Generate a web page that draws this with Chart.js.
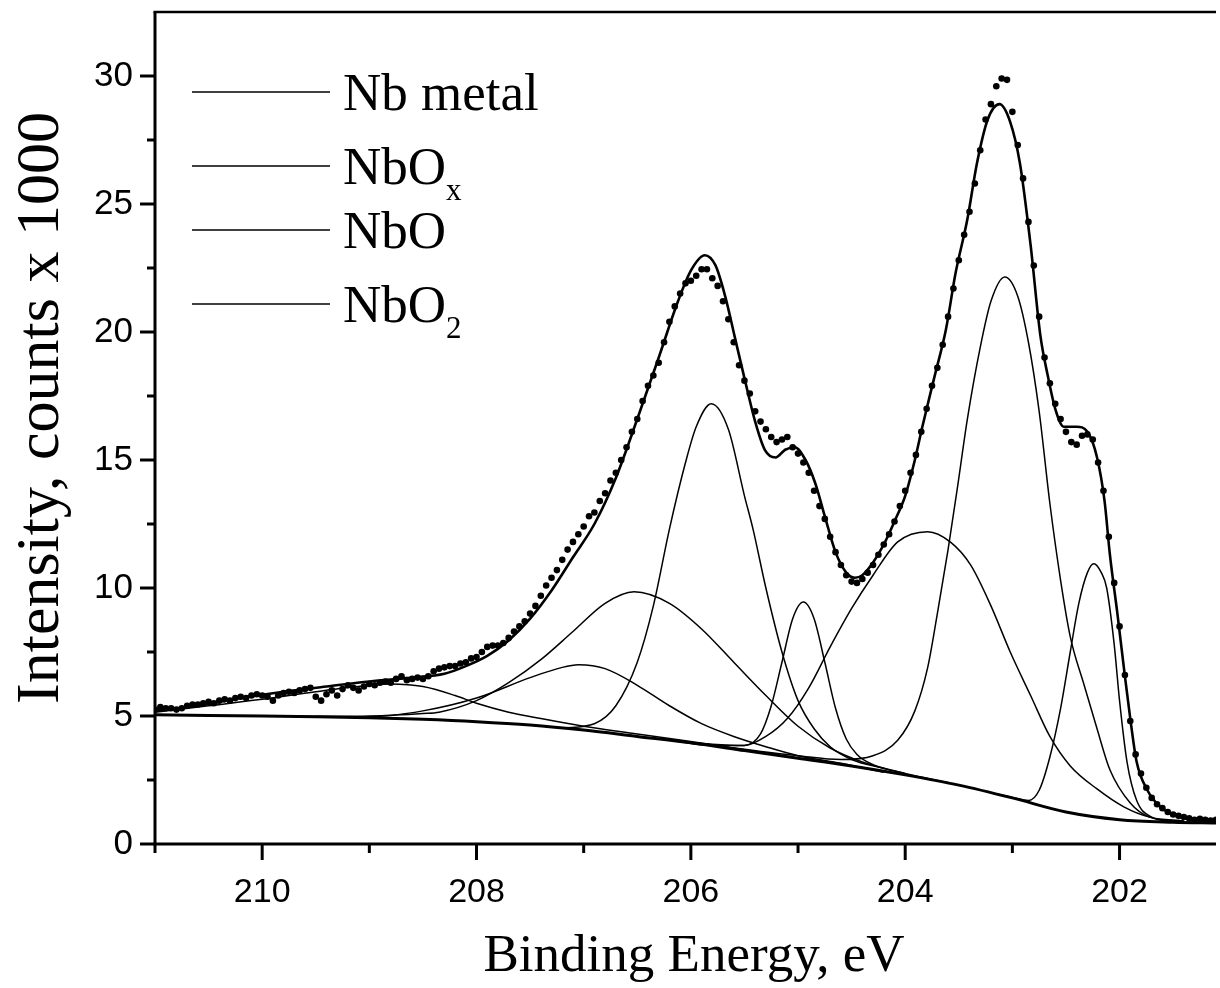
<!DOCTYPE html>
<html>
<head>
<meta charset="utf-8">
<script src="https://cdn.jsdelivr.net/npm/chart.js@4.4.1/dist/chart.umd.min.js"></script>
<style>
  html, body { margin: 0; padding: 0; background: #fff; }
  #wrap { width: 1220px; height: 988px; }
</style>
</head>
<body>
<div id="wrap"><canvas id="xps" width="1220" height="988"></canvas></div>
<script>
// Nb 3d spectrum, measured points every 0.05 eV starting at 211.00 eV
const SCAN_START = 211.0
const SCAN_STEP = 0.05
const counts = [
  5.25, 5.35, 5.3, 5.3, 5.25, 5.3, 5.4, 5.45, 5.45, 5.5,
  5.55, 5.5, 5.6, 5.65, 5.6, 5.7, 5.75, 5.7, 5.8, 5.85,
  5.8, 5.75, 5.6, 5.8, 5.9, 5.95, 5.9, 6.0, 6.05, 6.1,
  5.75, 5.6, 5.85, 6.0, 5.8, 6.05, 6.2, 6.1, 6.0, 6.15,
  6.25, 6.2, 6.3, 6.35, 6.3, 6.45, 6.55, 6.4, 6.45, 6.5,
  6.45, 6.55, 6.75, 6.85, 6.9, 6.95, 6.95, 7.05, 7.1, 7.25,
  7.3, 7.5, 7.7, 7.75, 7.75, 7.85, 8.05, 8.3, 8.5, 8.7,
  9.0, 9.3, 9.7, 10.1, 10.4, 10.7, 11.1, 11.5, 11.8, 12.1,
  12.4, 12.8, 12.95, 13.4, 13.7, 14.2, 14.5, 15.0, 15.5, 16.1,
  16.6, 17.3, 17.9, 18.3, 18.8, 19.6, 20.4, 21.0, 21.5, 21.9,
  22.0, 22.2, 22.45, 22.45, 22.1, 21.8, 21.2, 20.5, 19.6, 18.7,
  18.1, 17.6, 16.9, 16.5, 16.2, 15.9, 15.7, 15.8, 15.9, 15.5,
  15.25, 14.9, 14.5, 13.8, 13.2, 12.7, 12.0, 11.4, 10.9, 10.5,
  10.25, 10.2, 10.35, 10.6, 10.9, 11.3, 11.7, 12.1, 12.6, 13.2,
  13.8, 14.5, 15.2, 16.1, 17.0, 17.9, 18.6, 19.5, 20.6, 21.7,
  22.8, 23.8, 24.7, 25.8, 27.1, 28.3, 28.9, 29.6, 29.9, 29.85,
  28.6, 27.3, 26.0, 24.3, 22.6, 20.6, 19.0, 18.0, 17.2, 16.6,
  16.1, 15.7, 15.6, 15.95, 16.0, 15.8, 14.9, 13.8, 12.0, 10.2,
  8.5, 6.6, 4.8, 3.5, 2.75, 2.2, 1.8, 1.55, 1.4, 1.25,
  1.15, 1.1, 1.05, 1.0, 0.95, 0.98, 0.95, 0.92, 0.95
]

// fitted envelope
const envE = [211.0, 210.6, 210.2, 209.8, 209.4, 209.0, 208.6, 208.3, 208.1, 207.9,
  207.7, 207.5, 207.3, 207.1, 206.9, 206.7, 206.5, 206.3, 206.12, 206.0,
  205.87, 205.77, 205.68, 205.59, 205.5, 205.4, 205.31, 205.21, 205.12, 205.03,
  204.93, 204.84, 204.75, 204.65, 204.55, 204.47, 204.4, 204.3, 204.2, 204.1,
  204.0, 203.91, 203.84, 203.73, 203.62, 203.53, 203.42, 203.33, 203.23, 203.12,
  203.02, 202.93, 202.83, 202.74, 202.67, 202.6, 202.52, 202.4, 202.3, 202.21,
  202.14, 202.09, 202.02, 201.96, 201.9, 201.84, 201.74, 201.62, 201.44, 201.1]
const envI = [5.2, 5.4, 5.7, 5.95, 6.15, 6.35, 6.5, 6.65, 6.95, 7.35,
  7.95, 8.8, 9.9, 11.2, 12.5, 14.3, 16.6, 19.0, 21.2, 22.4,
  23.0, 22.6, 21.4, 19.8, 18.2, 16.5, 15.4, 15.1, 15.4, 15.5,
  15.0, 14.1, 12.8, 11.4, 10.6, 10.4, 10.5, 11.0, 11.7, 12.6,
  13.6, 15.0, 16.3, 18.2, 20.1, 22.3, 24.4, 26.6, 28.3, 28.9,
  28.2, 26.6, 23.4, 19.9, 18.3, 17.0, 16.3, 16.3, 16.1, 15.1,
  13.4, 11.3, 9.0, 6.9, 4.9, 3.2, 2.1, 1.45, 1.05, 0.88]

// Shirley background
const bgE = [211.0, 210.5, 210.0, 209.5, 209.0, 208.5, 208.0, 207.5, 207.0, 206.5,
  206.0, 205.5, 205.0, 204.5, 204.0, 203.5, 203.0, 202.5, 202.0, 201.5, 201.1]
const bgI = [5.05, 5.02, 5.0, 4.97, 4.93, 4.87, 4.78, 4.65, 4.45, 4.2,
  3.95, 3.65, 3.35, 3.05, 2.7, 2.3, 1.8, 1.25, 0.95, 0.85, 0.82]

// fit components (each drawn on top of the background)
const metal52E = [203.2, 203.0, 202.85, 202.75, 202.65, 202.55, 202.46, 202.38, 202.3, 202.24,
  202.17, 202.12, 202.05, 202.0, 201.93, 201.84, 201.7, 201.5, 201.1]
const metal52I = [2.0, 1.82, 1.7, 2.1, 3.4, 5.3, 7.5, 9.4, 10.6, 10.95,
  10.6, 10.0, 7.8, 5.6, 3.2, 1.7, 1.05, 0.88, 0.82]

const metal32E = [206.2, 205.8, 205.5, 205.35, 205.25, 205.15, 205.05, 204.95, 204.85, 204.75,
  204.65, 204.55, 204.45, 204.3, 204.0, 203.6]
const metal32I = [4.06, 3.9, 3.85, 4.3, 5.4, 7.1, 8.8, 9.45, 8.8, 7.1,
  5.3, 4.1, 3.5, 3.1, 2.75, 2.4]

const nbo52E = [206.0, 205.5, 205.0, 204.6, 204.3, 204.07, 203.91, 203.79, 203.7, 203.6,
  203.51, 203.42, 203.3, 203.2, 203.07, 202.95, 202.85, 202.75, 202.65, 202.55,
  202.46, 202.33, 202.21, 202.09, 201.9, 201.72, 201.4]
const nbo52I = [3.97, 3.7, 3.45, 3.3, 3.45, 4.05, 5.2, 6.9, 9.0, 11.5,
  14.0, 16.6, 19.4, 21.2, 22.15, 21.4, 19.6, 16.9, 13.3, 10.3,
  8.1, 6.2, 4.5, 2.9, 1.6, 1.05, 0.88]

const nbo32E = [207.2, 206.9, 206.7, 206.5, 206.35, 206.2, 206.05, 205.95, 205.81, 205.65,
  205.5, 205.42, 205.3, 205.15, 205.0, 204.85, 204.7, 204.5, 204.2]
const nbo32I = [4.53, 4.7, 5.4, 7.1, 9.3, 12.3, 14.9, 16.3, 17.2, 16.2,
  13.6, 12.3, 10.0, 7.5, 5.6, 4.5, 3.8, 3.3, 2.95]

const nbox52E = [206.2, 205.8, 205.5, 205.3, 205.1, 204.9, 204.7, 204.5, 204.3, 204.07,
  203.79, 203.58, 203.39, 203.2, 203.02, 202.83, 202.65, 202.46, 202.21, 201.96, 201.72, 201.4]
const nbox52I = [4.06, 3.85, 3.85, 4.2, 4.9, 6.1, 7.7, 9.2, 10.5, 11.8,
  12.2, 11.8, 10.9, 9.3, 7.5, 5.8, 4.2, 3.05, 2.15, 1.45, 1.05, 0.9]

const nbox32E = [209.5, 209.0, 208.5, 208.35, 208.0, 207.7, 207.4, 207.1, 206.8, 206.53,
  206.2, 205.9, 205.6, 205.3, 205.0, 204.7, 204.4, 204.0]
const nbox32I = [4.98, 5.0, 5.1, 5.15, 5.6, 6.3, 7.2, 8.3, 9.4, 9.85,
  9.4, 8.4, 7.1, 5.8, 4.6, 3.75, 3.2, 2.75]

const nbo2aE = [210.0, 209.0, 208.5, 208.0, 207.5, 207.2, 207.05, 206.8, 206.5, 206.2,
  205.9, 205.6, 205.3, 205.0, 204.6, 204.2]
const nbo2aI = [5.0, 4.97, 5.2, 5.7, 6.5, 6.9, 7.0, 6.85, 6.2, 5.4,
  4.7, 4.2, 3.8, 3.45, 3.15, 2.8]

const nbo2bE = [211.0, 210.5, 210.0, 209.5, 209.0, 208.8, 208.5, 208.2, 208.0, 207.7,
  207.4, 207.0, 206.5, 206.0, 205.5]
const nbo2bI = [5.15, 5.4, 5.65, 5.95, 6.2, 6.25, 6.15, 5.8, 5.5, 5.15,
  4.9, 4.6, 4.3, 4.0, 3.68]

// axes
const X_LEFT = 211.0
const X_RIGHT = 201.1
const Y_MAX = 32.5
const xTickValues = [202, 203, 204, 205, 206, 207, 208, 209, 210, 211]
const yTickValues = [0, 2.5, 5, 7.5, 10, 12.5, 15, 17.5, 20, 22.5, 25, 27.5, 30]
const xTitle = 'Binding Energy, eV'
const yTitle = 'Intensity, counts x 1000'

const legendNames = [
  { base: 'Nb metal', sub: '' },
  { base: 'NbO', sub: 'x' },
  { base: 'NbO', sub: '' },
  { base: 'NbO', sub: '2' },
]

const SERIF = '"Liberation Serif", "Times New Roman", serif'
const SANS = '"Liberation Sans", Arial, sans-serif'

const pts = (xs, ys) => xs.map((x, i) => ({ x, y: ys[i] }))
const scanPts = counts.map((c, i) => ({ x: +(SCAN_START - i * SCAN_STEP).toFixed(2), y: c }))

const curve = (data, width) => ({
  data,
  showLine: true,
  borderColor: '#000',
  borderWidth: width,
  pointRadius: 0,
  cubicInterpolationMode: 'monotone',
  fill: false,
})

// axis lines, tick marks, axis titles and legend
const framePlugin = {
  id: 'frame',
  afterDraw(chart) {
    const { ctx, chartArea: a, scales: { x, y } } = chart
    ctx.save()
    ctx.strokeStyle = '#000'
    ctx.fillStyle = '#000'
    ctx.lineCap = 'butt'

    ctx.lineWidth = 3
    x.ticks.forEach(t => {
      const px = x.getPixelForValue(t.value)
      const len = t.value % 2 === 0 ? 16 : 9
      ctx.beginPath(); ctx.moveTo(px, a.bottom); ctx.lineTo(px, a.bottom + len); ctx.stroke()
    })
    y.ticks.forEach(t => {
      const py = y.getPixelForValue(t.value)
      const len = t.value % 5 === 0 ? 15 : 8
      ctx.beginPath(); ctx.moveTo(a.left, py); ctx.lineTo(a.left - len, py); ctx.stroke()
    })

    ctx.beginPath(); ctx.moveTo(a.left, a.top); ctx.lineTo(a.left, a.bottom + 1.5); ctx.stroke()
    ctx.beginPath(); ctx.moveTo(a.left - 1.5, a.bottom); ctx.lineTo(a.right, a.bottom); ctx.stroke()
    ctx.lineWidth = 2.5
    ctx.beginPath(); ctx.moveTo(a.left - 1.5, a.top); ctx.lineTo(a.right, a.top); ctx.stroke()

    // axis titles
    ctx.textAlign = 'center'
    ctx.textBaseline = 'alphabetic'
    ctx.font = '53px ' + SERIF
    ctx.fillText(xTitle, 694, 971)

    ctx.save()
    ctx.translate(58, 408)
    ctx.rotate(-Math.PI / 2)
    ctx.font = '62px ' + SERIF
    ctx.fillText(yTitle, 0, 0)
    ctx.restore()

    // legend
    const rows = [92, 166, 230, 304]
    ctx.lineWidth = 1.3
    ctx.textAlign = 'left'
    legendNames.forEach((item, i) => {
      const ly = rows[i]
      ctx.beginPath(); ctx.moveTo(192, ly); ctx.lineTo(330, ly); ctx.stroke()
      ctx.font = '53px ' + SERIF
      ctx.fillText(item.base, 343, ly + 18)
      if (item.sub) {
        const w = ctx.measureText(item.base).width
        ctx.font = '31px ' + SERIF
        ctx.fillText(item.sub, 343 + w, ly + 34)
      }
    })
    ctx.restore()
  }
}

new Chart(document.getElementById('xps'), {
  type: 'scatter',
  data: {
    datasets: [
      curve(pts(nbo2bE, nbo2bI), 1.5),
      curve(pts(nbo2aE, nbo2aI), 1.5),
      curve(pts(nbox32E, nbox32I), 1.5),
      curve(pts(nbox52E, nbox52I), 1.5),
      curve(pts(nbo32E, nbo32I), 1.5),
      curve(pts(nbo52E, nbo52I), 1.5),
      curve(pts(metal32E, metal32I), 1.5),
      curve(pts(metal52E, metal52I), 1.5),
      curve(pts(bgE, bgI), 3),
      curve(pts(envE, envI), 2.6),
      {
        data: scanPts,
        showLine: false,
        pointRadius: 3.3,
        pointBackgroundColor: '#000',
        pointBorderWidth: 0,
        pointBorderColor: '#000',
      },
    ]
  },
  options: {
    responsive: false,
    animation: false,
    events: [],
    layout: { padding: { top: 12, right: 0, left: 0, bottom: 0 } },
    plugins: {
      legend: { display: false },
      tooltip: { enabled: false },
    },
    scales: {
      x: {
        type: 'linear',
        reverse: true,
        min: X_RIGHT,
        max: X_LEFT,
        afterBuildTicks: s => { s.ticks = xTickValues.map(v => ({ value: v })) },
        afterFit: s => { s.height = 144; s.paddingLeft = 0; s.paddingRight = 0 },
        ticks: {
          callback: v => (v % 2 === 0 && v < 211 ? String(v) : ''),
          color: '#000',
          font: { family: SANS, size: 34 },
          padding: 28,
          maxRotation: 0,
          autoSkip: false,
        },
        grid: { display: false, drawTicks: false },
        border: { display: false },
      },
      y: {
        min: 0,
        max: Y_MAX,
        afterBuildTicks: s => { s.ticks = yTickValues.map(v => ({ value: v })) },
        afterFit: s => { s.width = 155; s.paddingTop = 0; s.paddingBottom = 0 },
        ticks: {
          callback: v => (v % 5 === 0 ? String(v) : ''),
          color: '#000',
          font: { family: SANS, size: 35 },
          padding: 22,
          autoSkip: false,
        },
        grid: { display: false, drawTicks: false },
        border: { display: false },
      },
    },
  },
  plugins: [framePlugin],
})
</script>
</body>
</html>
